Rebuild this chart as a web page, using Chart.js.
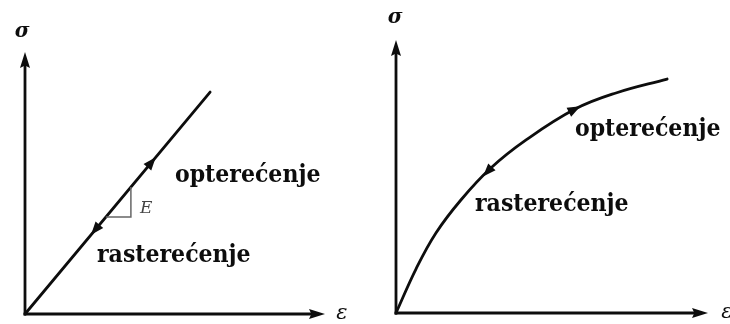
<!DOCTYPE html>
<html>
<head>
<meta charset="utf-8">
<script src="https://cdn.jsdelivr.net/npm/chart.js@4.4.1/dist/chart.umd.min.js"></script>
<style>
  html, body { margin: 0; padding: 0; background: #fff; }
  #wrap { position: relative; width: 730px; height: 324px; overflow: hidden; }
  canvas { position: absolute; top: 0; }
  #left { left: 0; }
  #right { left: 365px; }
</style>
</head>
<body>
<div id="wrap">
  <canvas id="left" width="365" height="324"></canvas>
  <canvas id="right" width="365" height="324"></canvas>
</div>
<script>
// linear elastic - loading and unloading on the same straight line
const linStrain = [0, 6.17];
const linStress = [0, 8.47];
const linArrowsAt = [4.23, 2.33];   // strain where the arrow heads sit
const linArrowsDir = [1, -1];       // 1 = loading, -1 = unloading
const slopeMark = [3.53, 3.70];     // corner of the E triangle

// nonlinear elastic curve
const curStrain = [0, 0.64, 1.28, 2.08, 3.04, 4.17, 5.74, 7.05, 8.69];
const curStress = [0, 1.61, 2.93, 4.14, 5.31, 6.34, 7.47, 8.06, 8.57];
const curArrowsAt = [5.74, 2.92];
const curArrowsDir = [1, -1];

const axisNames = ['σ', 'ε'];
const captions = ['opterećenje', 'rasterećenje'];

const INK = '#0d0d0d';
const CAPTION_FONT = "bold 24.5px 'DejaVu Serif Condensed', 'DejaVu Serif', serif";
const SYMBOL_FONT = "italic bold 20px 'DejaVu Serif', serif";

function pts(xs, ys) {
  return xs.map((x, i) => ({ x: x, y: ys[i] }));
}

// y on the polyline at a given x
function yAt(xs, ys, x) {
  for (let i = 1; i < xs.length; i++) {
    if (x <= xs[i]) {
      const t = (x - xs[i - 1]) / (xs[i] - xs[i - 1]);
      return ys[i - 1] + t * (ys[i] - ys[i - 1]);
    }
  }
  return ys[ys.length - 1];
}

function head(ctx, tx, ty, ang, len, half, notch) {
  ctx.save();
  ctx.translate(tx, ty);
  ctx.rotate(ang);
  ctx.beginPath();
  ctx.moveTo(0, 0);
  ctx.lineTo(-len, -half);
  ctx.lineTo(-len * notch, 0);
  ctx.lineTo(-len, half);
  ctx.closePath();
  ctx.fill();
  ctx.restore();
}

// axes with arrow tips, symbols, captions and arrows along the line
function panelPlugin(opt) {
  return {
    id: 'panel',
    afterDatasetsDraw(chart) {
      const ctx = chart.ctx;
      const a = chart.chartArea;
      const sx = chart.scales.x, sy = chart.scales.y;
      ctx.save();
      ctx.strokeStyle = INK;
      ctx.fillStyle = INK;
      ctx.lineWidth = 2.8;
      ctx.lineCap = 'butt';

      // y axis
      ctx.beginPath();
      ctx.moveTo(a.left, a.bottom + 1.4);
      ctx.lineTo(a.left, a.top + 8);
      ctx.stroke();
      head(ctx, a.left, a.top, -Math.PI / 2, 16, 5, 0.85);
      // x axis
      ctx.beginPath();
      ctx.moveTo(a.left - 1.4, a.bottom);
      ctx.lineTo(a.right - 8, a.bottom);
      ctx.stroke();
      head(ctx, a.right, a.bottom, 0, 16, 5, 0.85);

      // arrows on the curve
      opt.arrowsAt.forEach((x, i) => {
        const d = 0.12;
        const p1x = sx.getPixelForValue(x - d), p1y = sy.getPixelForValue(yAt(opt.xs, opt.ys, x - d));
        const p2x = sx.getPixelForValue(x + d), p2y = sy.getPixelForValue(yAt(opt.xs, opt.ys, x + d));
        let ang = Math.atan2(p2y - p1y, p2x - p1x);
        if (opt.arrowsDir[i] < 0) ang += Math.PI;
        const cx = sx.getPixelForValue(x), cy = sy.getPixelForValue(yAt(opt.xs, opt.ys, x));
        head(ctx, cx + Math.cos(ang) * 6, cy + Math.sin(ang) * 6, ang, 13, 5, 1);
      });

      // slope triangle
      if (opt.tri) {
        const [tx, ty] = opt.tri;
        const k = opt.ys[1] / opt.xs[1];
        ctx.strokeStyle = '#666';
        ctx.lineWidth = 1.5;
        ctx.beginPath();
        ctx.moveTo(sx.getPixelForValue(tx), sy.getPixelForValue(tx * k));
        ctx.lineTo(sx.getPixelForValue(tx), sy.getPixelForValue(ty));
        ctx.lineTo(sx.getPixelForValue(ty / k), sy.getPixelForValue(ty));
        ctx.stroke();
        ctx.fillStyle = '#444';
        ctx.font = "italic 17px 'DejaVu Serif', serif";
        ctx.textAlign = 'left';
        ctx.textBaseline = 'middle';
        ctx.fillText('E', sx.getPixelForValue(tx) + 9, sy.getPixelForValue(ty) - 8);
        ctx.fillStyle = INK;
      }

      // axis symbols
      ctx.font = SYMBOL_FONT;
      ctx.textAlign = 'center';
      ctx.textBaseline = 'middle';
      ctx.fillText(axisNames[0], opt.sigma[0], opt.sigma[1]);
      ctx.font = "italic 21px 'DejaVu Serif', serif";
      ctx.fillText(axisNames[1], opt.eps[0], opt.eps[1]);

      // captions
      ctx.font = CAPTION_FONT;
      ctx.textAlign = 'left';
      ctx.textBaseline = 'alphabetic';
      ctx.fillText(captions[0], opt.load[0], opt.load[1]);
      ctx.fillText(captions[1], opt.unload[0], opt.unload[1]);
      ctx.restore();
    }
  };
}

function makeChart(id, xs, ys, tension, pad, opt) {
  return new Chart(document.getElementById(id).getContext('2d'), {
    type: 'scatter',
    data: {
      datasets: [{
        data: pts(xs, ys),
        showLine: true,
        borderColor: INK,
        borderWidth: 2.8,
        pointRadius: 0,
        tension: tension,
        borderCapStyle: 'round',
        clip: false
      }]
    },
    options: {
      responsive: false,
      animation: false,
      events: [],
      layout: { padding: pad },
      scales: {
        x: { type: 'linear', min: 0, max: 10, display: false },
        y: { type: 'linear', min: 0, max: 10, display: false }
      },
      plugins: { legend: { display: false }, tooltip: { enabled: false } }
    },
    plugins: [panelPlugin(opt)]
  });
}

makeChart('left', linStrain, linStress, 0,
  { left: 25, right: 40, top: 52, bottom: 10 },
  { xs: linStrain, ys: linStress, arrowsAt: linArrowsAt, arrowsDir: linArrowsDir,
    tri: slopeMark, sigma: [22, 32], eps: [342, 314],
    load: [175, 182], unload: [97, 262] });

makeChart('right', curStrain, curStress, 0.4,
  { left: 31, right: 22, top: 40, bottom: 11 },
  { xs: curStrain, ys: curStress, arrowsAt: curArrowsAt, arrowsDir: curArrowsDir,
    tri: null, sigma: [30, 18], eps: [362, 313],
    load: [210, 136], unload: [110, 211] });
</script>
</body>
</html>
